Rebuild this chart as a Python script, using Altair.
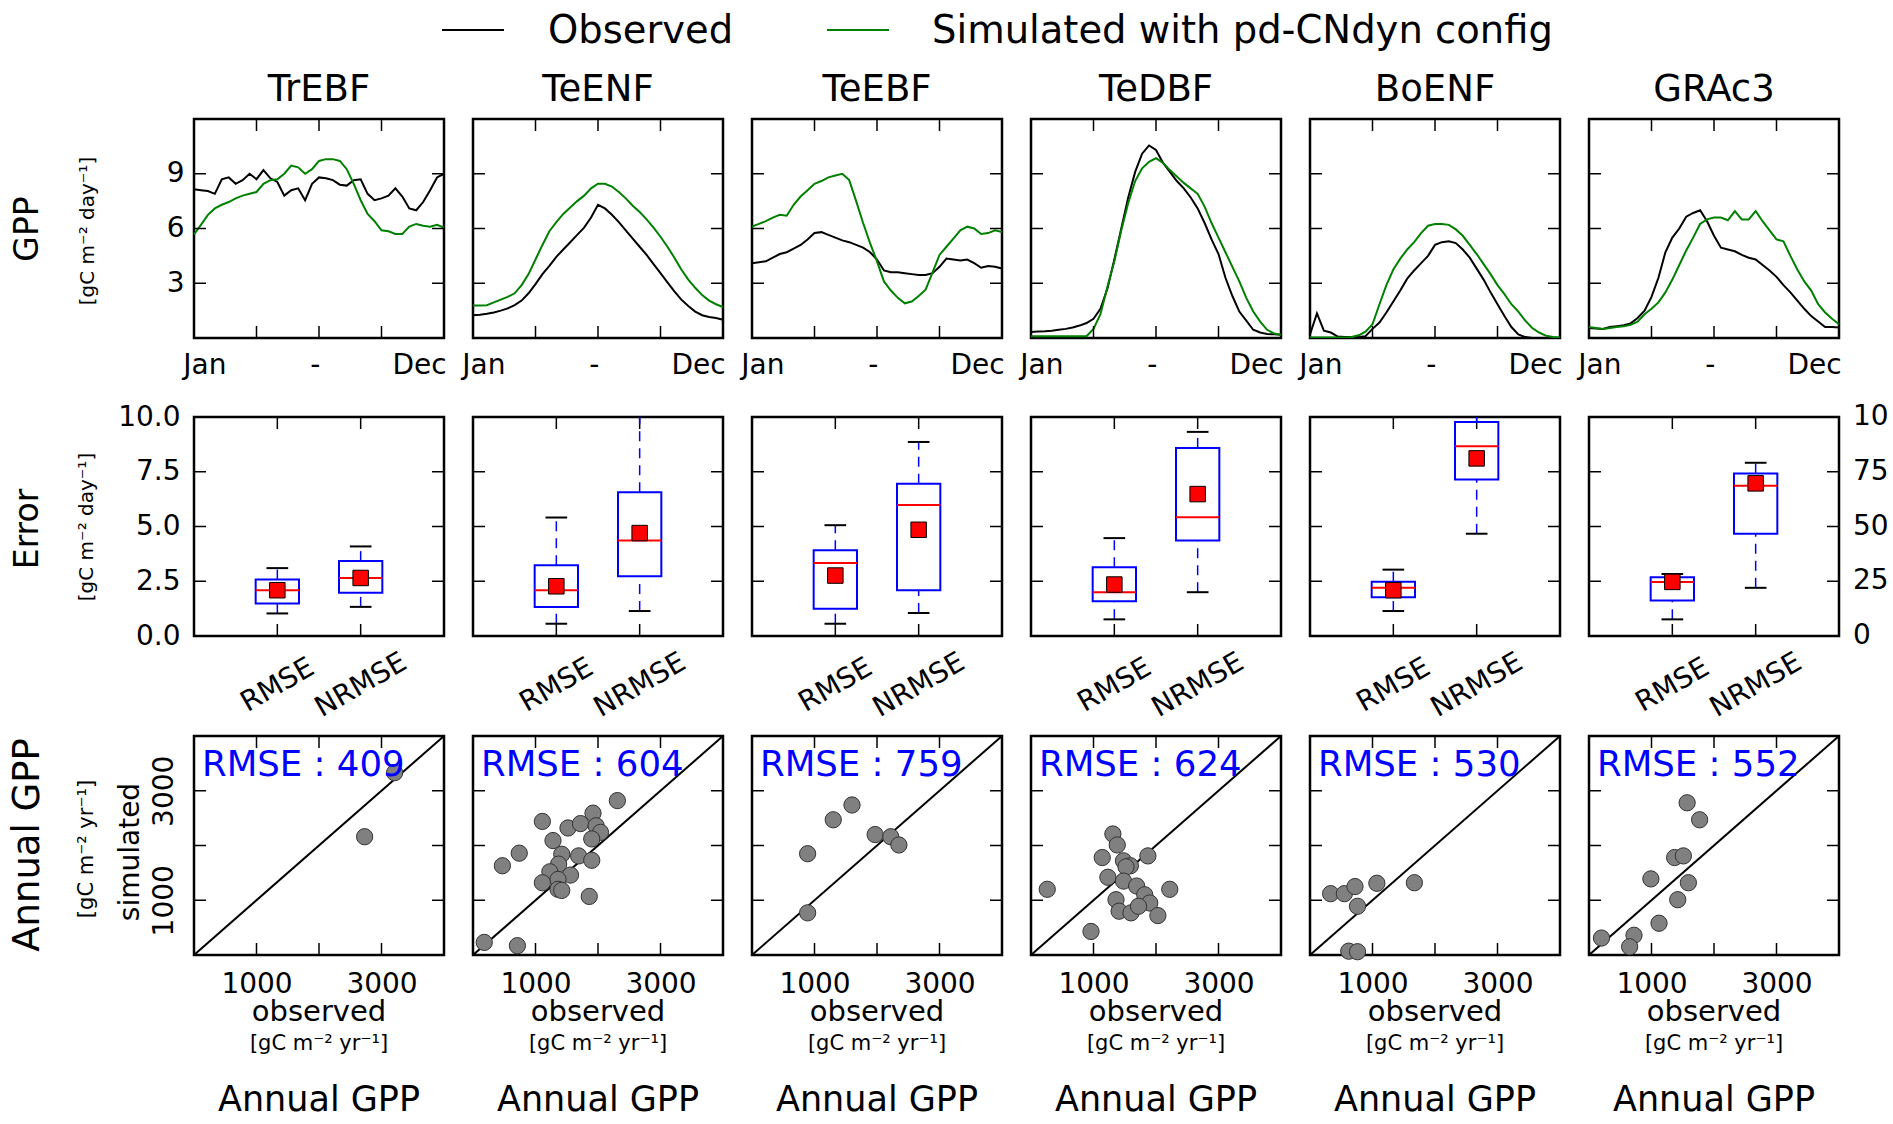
import altair as alt
import pandas as pd

FONT = "DejaVu Sans"

# ---------------- data ----------------
SITES = ["TrEBF", "TeENF", "TeEBF", "TeDBF", "BoENF", "GRAc3"]
SERIES = ["Observed", "Simulated with pd-CNdyn config"]
SERIES_COLORS = ["#000000", "#008000"]

# mean seasonal cycle, 37 steps of ~10 days (Jan .. Dec)
STEP = list(range(37))
MONTH_POS = [1.5, 17.4, 32.4]
MONTH_TXT = ["Jan", "-", "Dec"]
GPP_TICKS = [3, 6, 9]

GPP_OBS = [
    [8.15, 8.1, 8.05, 7.9, 8.7, 8.8, 8.45, 8.65, 9.0, 8.7, 9.2, 8.75, 8.55, 7.8, 8.1, 8.2, 7.55, 8.45, 8.8,
     8.75, 8.65, 8.4, 8.35, 8.65, 8.7, 7.9, 7.55, 7.65, 7.8, 8.2, 7.75, 7.1, 7.0, 7.45, 8.1, 8.8, 9.0],
    [1.25, 1.28, 1.33, 1.4, 1.5, 1.62, 1.8, 2.05, 2.45, 2.95, 3.5, 3.95, 4.45, 4.85, 5.25, 5.65, 6.05, 6.6, 7.3,
     7.1, 6.75, 6.35, 5.9, 5.45, 5.0, 4.55, 4.05, 3.55, 3.05, 2.55, 2.1, 1.75, 1.45, 1.25, 1.15, 1.1, 1.0],
    [4.1, 4.15, 4.2, 4.4, 4.6, 4.7, 4.9, 5.1, 5.4, 5.75, 5.8, 5.65, 5.5, 5.35, 5.25, 5.1, 4.95, 4.7, 4.3,
     3.7, 3.6, 3.6, 3.55, 3.5, 3.45, 3.45, 3.55, 3.9, 4.35, 4.3, 4.25, 4.3, 4.1, 3.85, 3.95, 3.9, 3.8],
    [0.33, 0.35, 0.37, 0.4, 0.45, 0.5, 0.58, 0.68, 0.82, 1.05, 1.6, 2.7, 4.3, 6.0, 7.7, 9.1, 10.1, 10.55, 10.3,
     9.6, 9.1, 8.6, 8.2, 7.7, 7.1, 6.3, 5.4, 4.6, 3.3, 2.3, 1.45, 0.95, 0.45, 0.3, 0.22, 0.2, 0.18],
    [0.2, 1.35, 0.4, 0.3, 0.08, 0.05, 0.05, 0.05, 0.1, 0.5, 0.85, 1.4, 2.0, 2.6, 3.25, 3.7, 4.1, 4.5, 5.1,
     5.25, 5.3, 5.2, 4.85, 4.4, 3.8, 3.2, 2.5, 1.85, 1.2, 0.6, 0.2, 0.05, 0.0, 0.0, 0.0, 0.0, 0.0],
    [0.55, 0.52, 0.5, 0.6, 0.65, 0.7, 0.8, 1.1, 1.5, 2.25, 3.3, 4.7, 5.5, 6.0, 6.65, 6.85, 7.0, 6.4, 5.6,
     4.95, 4.85, 4.75, 4.55, 4.4, 4.3, 4.0, 3.7, 3.35, 2.9, 2.5, 2.05, 1.6, 1.2, 0.9, 0.6, 0.6, 0.58],
]
GPP_SIM = [
    [5.67, 6.2, 6.75, 7.1, 7.3, 7.45, 7.65, 7.8, 7.9, 8.0, 8.45, 8.65, 8.7, 9.0, 9.45, 9.35, 9.0, 9.25, 9.7,
     9.8, 9.8, 9.7, 9.25, 8.45, 7.55, 6.8, 6.4, 5.9, 5.85, 5.7, 5.7, 6.1, 6.25, 6.15, 6.1, 6.2, 6.05],
    [1.78, 1.78, 1.8, 1.95, 2.1, 2.25, 2.45, 2.9, 3.5, 4.3, 5.1, 5.85, 6.35, 6.8, 7.15, 7.5, 7.8, 8.2, 8.45,
     8.45, 8.3, 8.0, 7.65, 7.25, 6.9, 6.5, 6.05, 5.55, 5.0, 4.4, 3.75, 3.2, 2.75, 2.35, 2.05, 1.85, 1.7],
    [6.1, 6.25, 6.4, 6.6, 6.75, 6.7, 7.3, 7.75, 8.1, 8.45, 8.6, 8.8, 8.9, 9.0, 8.65, 7.5, 6.3, 5.2, 4.2,
     3.1, 2.6, 2.2, 1.9, 2.0, 2.3, 2.65, 3.6, 4.55, 5.0, 5.45, 5.9, 6.1, 6.0, 5.7, 5.75, 5.9, 5.8],
    [0.1, 0.1, 0.1, 0.1, 0.1, 0.1, 0.1, 0.1, 0.1, 0.5, 1.3, 2.8, 4.2, 5.9, 7.4, 8.6, 9.3, 9.65, 9.85,
     9.6, 9.2, 8.85, 8.5, 8.2, 7.9, 7.2, 6.3, 5.5, 4.7, 3.9, 3.1, 2.2, 1.45, 0.9, 0.45, 0.25, 0.18],
    [0.03, 0.03, 0.03, 0.03, 0.03, 0.03, 0.05, 0.15, 0.35, 0.75, 1.85, 2.9, 3.75, 4.35, 4.85, 5.25, 5.75, 6.15, 6.25,
     6.25, 6.2, 5.95, 5.6, 5.1, 4.6, 4.05, 3.5, 2.9, 2.4, 1.85, 1.45, 0.95, 0.55, 0.3, 0.12, 0.05, 0.03],
    [0.6, 0.55, 0.5, 0.55, 0.6, 0.65, 0.72, 0.9, 1.3, 1.6, 1.95, 2.5, 3.2, 4.0, 4.8, 5.5, 6.25, 6.5, 6.6,
     6.6, 6.45, 6.95, 6.5, 6.5, 6.95, 6.4, 5.9, 5.4, 5.3, 4.5, 3.75, 3.1, 2.6, 1.85, 1.4, 1.05, 0.75],
]

# error box plots (RMSE in gC m-2 day-1, NRMSE in %)
ERR_CATS = ["RMSE", "NRMSE"]
ERR_TICKS = [0, 2.5, 5, 7.5, 10]
NERR_TICKS = [0, 25, 50, 75, 100]
RMSE_LO = [1.03, 0.56, 0.56, 0.76, 1.14, 0.76]
RMSE_Q1 = [1.48, 1.32, 1.24, 1.59, 1.77, 1.62]
RMSE_MED = [2.09, 2.09, 3.33, 2.00, 2.20, 2.47]
RMSE_Q3 = [2.58, 3.23, 3.91, 3.14, 2.48, 2.68]
RMSE_HI = [3.10, 5.41, 5.06, 4.47, 3.03, 2.83]
RMSE_MEAN = [2.09, 2.27, 2.76, 2.35, 2.09, 2.47]
NRMSE_LO = [13.3, 11.4, 10.5, 20.0, 46.7, 22.0]
NRMSE_Q1 = [19.7, 27.3, 20.9, 43.6, 71.5, 46.7]
NRMSE_MED = [26.5, 43.6, 59.8, 54.2, 86.7, 68.6]
NRMSE_Q3 = [34.2, 65.6, 69.5, 85.9, 97.7, 74.2]
NRMSE_HI = [40.9, 104.0, 88.6, 93.2, 103.0, 79.1]
NRMSE_MEAN = [26.5, 47.0, 48.5, 64.8, 81.1, 69.7]

# annual GPP, observed vs simulated (gC m-2 yr-1)
ANN_TICKS = [1000, 2000, 3000]
ANN_LABELS = [1000, 3000]
ANN_OBS = [
    [3210, 2730],
    [180, 710, 470, 740, 1110, 1280, 1520, 1720, 1920, 1970, 2040, 1900, 2310, 1420, 1690, 1900, 1370, 1230,
     1560, 1360, 1110, 1360, 1420, 1860],
    [890, 890, 1300, 1600, 1970, 2220, 2350],
    [260, 960, 1310, 1380, 1140, 1870, 1230, 1480, 1590, 1520, 1480, 1690, 2220, 1360, 1820, 1900, 1410, 1600,
     1720, 2030],
    [330, 550, 720, 1070, 760, 1670, 620, 760],
    [200, 720, 650, 1120, 1420, 1590, 990, 1370, 1510, 1570, 1770],
]
ANN_SIM = [
    [3330, 2160],
    [230, 170, 1630, 1860, 2440, 2090, 2320, 2400, 2590, 2360, 2240, 2120, 2820, 1840, 1810, 1730, 1660, 1520,
     1460, 1380, 1320, 1200, 1180, 1070],
    [770, 1850, 2470, 2740, 2200, 2160, 2010],
    [1200, 430, 2210, 2010, 1780, 1810, 1420, 1720, 1630, 1610, 1350, 1260, 1200, 1010, 1100, 950, 800, 770,
     890, 720],
    [1120, 1120, 1250, 1310, 890, 1320, 70, 60],
    [310, 360, 150, 580, 1010, 1320, 1390, 1780, 1810, 2780, 2470],
]
ANN_RMSE = [409, 604, 759, 624, 530, 552]

UNITS_DAY = "[gC m\u207b\u00b2 day\u207b\u00b9]"
UNITS_YR = "[gC m\u207b\u00b2 yr\u207b\u00b9]"

# ---------------- layout constants (pixels) ----------------
W, H = 250, 219
SIDE = 12
LEFT = 192
TK = 12
BOX_HALF = 0.26
CAP_HALF = 0.13
TICK_FS = 28
# legend strip above the panels (x relative to the left edge of the first panel)
LEG_H = 60
LEG_Y = 30
LEG_LINE_X = [(248, 310), (633, 695)]
LEG_TEXT_X = [354, 738]

COLOR_SCALE = alt.Scale(domain=SERIES, range=SERIES_COLORS)


def one_row(**kw):
    return pd.DataFrame({k: [v] for k, v in kw.items()})


def enc(ch, field, scale, axis="omit"):
    kw = {"scale": scale}
    if axis != "omit":
        kw["axis"] = axis
    return ch(field, **kw)


def anchors(k, top, bot):
    d = one_row(a=0)
    left = LEFT if k == 0 else SIDE
    h = alt.Chart(d).mark_rule(strokeOpacity=0).encode(
        x=alt.value(-left), x2=alt.value(W + SIDE), y=alt.value(H / 2))
    v = alt.Chart(d).mark_rule(strokeOpacity=0).encode(
        x=alt.value(W / 2), y=alt.value(-top), y2=alt.value(H + bot))
    return [h, v]


def inner_ticks(xvals, yvals, xs, ys):
    dx = pd.DataFrame({"x": xvals})
    dy = pd.DataFrame({"y": yvals})
    kw = dict(color="black", strokeWidth=1.5)
    X = enc(alt.X, "x:Q", xs)
    Y = enc(alt.Y, "y:Q", ys)
    return [
        alt.Chart(dx).mark_rule(**kw).encode(x=X, y=alt.value(0), y2=alt.value(TK)),
        alt.Chart(dx).mark_rule(**kw).encode(x=X, y=alt.value(H - TK), y2=alt.value(H)),
        alt.Chart(dy).mark_rule(**kw).encode(y=Y, x=alt.value(0), x2=alt.value(TK)),
        alt.Chart(dy).mark_rule(**kw).encode(y=Y, x=alt.value(W - TK), x2=alt.value(W)),
    ]


def vtext(txt, x, y, size):
    return alt.Chart(one_row(t=txt)).mark_text(angle=270, fontSize=size, align="center",
                                                 baseline="middle", color="black").encode(
        text="t:N", x=alt.value(x), y=alt.value(y))


def htext(txt, x, y, size, color="black", align="center"):
    return alt.Chart(one_row(t=txt)).mark_text(fontSize=size, align=align, baseline="alphabetic",
                                                 color=color).encode(
        text="t:N", x=alt.value(x), y=alt.value(y))


def no_ticks(**kw):
    return alt.Axis(title=None, ticks=False, tickSize=0, domain=False, grid=False, **kw)


# ---------------- legend strip ----------------
def legend_strip():
    d0 = one_row(a=0)
    layers = [alt.Chart(d0).mark_rule(strokeOpacity=0).encode(
        x=alt.value(300), y=alt.value(0), y2=alt.value(LEG_H))]
    for s, (x1, x2), tx in zip(SERIES, LEG_LINE_X, LEG_TEXT_X):
        d = one_row(series=s)
        layers.append(alt.Chart(d).mark_rule(strokeWidth=2).encode(
            x=alt.value(x1), x2=alt.value(x2), y=alt.value(LEG_Y),
            color=alt.Color("series:N", scale=COLOR_SCALE, legend=None)))
        layers.append(alt.Chart(d).mark_text(fontSize=38.5, align="left", baseline="middle",
                                             color="black").encode(
            text="series:N", x=alt.value(tx), y=alt.value(LEG_Y + 1)))
    return alt.layer(*layers).properties(width=1, height=1, view=alt.ViewBackground(strokeOpacity=0))


# ---------------- row 1: seasonal GPP ----------------
month_expr = (f"datum.value < {(MONTH_POS[0] + MONTH_POS[1]) / 2} ? '{MONTH_TXT[0]}' : "
              f"datum.value < {(MONTH_POS[1] + MONTH_POS[2]) / 2} ? '{MONTH_TXT[1]}' : '{MONTH_TXT[2]}'")


def gpp_panel(k):
    recs = []
    for s, vals in zip(SERIES, (GPP_OBS[k], GPP_SIM[k])):
        for t, v in zip(STEP, vals):
            recs.append({"x": t, "y": v, "series": s})
    df = pd.DataFrame(recs)
    xs = alt.Scale(domain=[0, 36], nice=False, zero=False)
    ys = alt.Scale(domain=[0, 12], nice=False, zero=False)
    lines = alt.Chart(df).mark_line(strokeWidth=2, clip=True).encode(
        x=enc(alt.X, "x:Q", xs, no_ticks(values=MONTH_POS, labelExpr=month_expr, labelFontSize=TICK_FS,
                                         labelPadding=13, labelFlush=False, labelOverlap=False)),
        y=enc(alt.Y, "y:Q", ys, no_ticks(values=GPP_TICKS, labels=(k == 0), labelFontSize=TICK_FS,
                                         labelPadding=10)),
        color=alt.Color("series:N", scale=COLOR_SCALE, legend=None),
    )
    title = alt.Chart(one_row(t=SITES[k])).mark_text(fontSize=37, align="center", baseline="middle").encode(
        text="t:N", x=alt.value(W / 2), y=alt.value(-29))
    layers = [lines, title] + inner_ticks([9, 18, 27], GPP_TICKS, xs, ys) + anchors(k, 57, 43)
    if k == 0:
        layers += [vtext("GPP", -166, 110, 33), vtext(UNITS_DAY, -106, 112, 20)]
    return alt.layer(*layers).properties(width=W, height=H)


# ---------------- row 2: error box plots ----------------
def box_layers(pos, stats, xs, ys, yaxis, xaxis, y_all_off):
    lo, q1, med, q3, hi, mean = stats
    d = one_row(x=pos, lo=lo, q1=q1, med=med, q3=q3, hi=hi, mean=mean)
    base = alt.Chart(d).transform_calculate(
        xl=f"datum.x - {BOX_HALF}", xr=f"datum.x + {BOX_HALF}",
        cl=f"datum.x - {CAP_HALF}", cr=f"datum.x + {CAP_HALF}")
    yo = None if y_all_off else "omit"

    def X(f, ax="omit"):
        return enc(alt.X, f"{f}:Q", xs, ax)

    def Y(f, ax=None):
        return enc(alt.Y, f"{f}:Q", ys, yo if ax is None else ax)

    whisk = dict(color="#0000ff", strokeWidth=1.5, strokeDash=[10, 7], clip=True)
    cap = dict(color="black", strokeWidth=2, clip=True)
    return [
        base.mark_rule(**whisk).encode(x=X("x"), y=Y("lo"), y2="q1:Q"),
        base.mark_rule(**whisk).encode(x=X("x"), y=Y("q3"), y2="hi:Q"),
        base.mark_rule(**cap).encode(x=X("cl"), x2="cr:Q", y=Y("lo")),
        base.mark_rule(**cap).encode(x=X("cl"), x2="cr:Q", y=Y("hi")),
        base.mark_rect(fillOpacity=0, stroke="#0000ff", strokeWidth=2, clip=True).encode(
            x=X("xl", xaxis), x2="xr:Q", y=Y("q1", yaxis), y2="q3:Q"),
        base.mark_rule(color="#ff0000", strokeWidth=2, clip=True).encode(x=X("xl"), x2="xr:Q", y=Y("med")),
        base.mark_square(size=240, color="#ff0000", stroke="black", strokeWidth=1, opacity=1,
                         clip=True).encode(x=X("x"), y=Y("mean")),
    ]


cat_expr = f"datum.value == 1 ? '{ERR_CATS[0]}' : '{ERR_CATS[1]}'"


def err_panel(k):
    xs = alt.Scale(domain=[0, 3], nice=False, zero=False)
    ys_l = alt.Scale(domain=[0, 10], nice=False, zero=False)
    ys_r = alt.Scale(domain=[0, 100], nice=False, zero=False)
    left_axis = no_ticks(values=ERR_TICKS, format=".1f", labels=(k == 0), labelFontSize=TICK_FS,
                         labelPadding=14)
    x_axis = no_ticks(values=[1, 2], labelExpr=cat_expr, labelFontSize=28, labelAngle=330,
                      labelAlign="center", labelBaseline="middle", labelPadding=49,
                      labelFlush=False, labelOverlap=False)
    L = box_layers(1, [RMSE_LO[k], RMSE_Q1[k], RMSE_MED[k], RMSE_Q3[k], RMSE_HI[k], RMSE_MEAN[k]],
                   xs, ys_l, left_axis, x_axis, False)
    nstats = [NRMSE_LO[k], NRMSE_Q1[k], NRMSE_MED[k], NRMSE_Q3[k], NRMSE_HI[k], NRMSE_MEAN[k]]
    R = box_layers(2, nstats, xs, ys_r, None, "omit", True)
    if k == 5:
        # right-hand NRMSE scale labels; the top one is cut at the figure edge as in the original
        R.append(alt.Chart(pd.DataFrame({"v": NERR_TICKS})).mark_text(
            align="left", baseline="middle", fontSize=TICK_FS, limit=46, ellipsis="\u200b",
            color="black").encode(
            y=alt.Y("v:Q", scale=ys_r, axis=None), x=alt.value(W + 14), text=alt.Text("v:Q", format="d")))
    L += inner_ticks([1, 2], ERR_TICKS[1:-1], xs, ys_l) + anchors(k, 32.5, 92)
    if k == 0:
        L += [vtext("Error", -166, 112, 33), vtext(UNITS_DAY, -107, 110, 20)]
    return alt.layer(alt.layer(*L), alt.layer(*R)).resolve_scale(y="independent").properties(width=W, height=H)


# ---------------- row 3: annual GPP scatter ----------------
def scat_panel(k):
    xs = alt.Scale(domain=[0, 4000], nice=False, zero=False)
    ys = alt.Scale(domain=[0, 4000], nice=False, zero=False)
    x_axis = no_ticks(values=ANN_LABELS, format="d", labelFontSize=TICK_FS, labelPadding=15,
                      labelFlush=False, labelOverlap=False)
    y_axis = no_ticks(values=ANN_LABELS, format="d", labels=(k == 0), labelFontSize=TICK_FS, labelAngle=270,
                      labelAlign="center", labelBaseline="middle", labelPadding=30, labelOverlap=False)
    diag = one_row(x=0, y=0, x2=4000, y2=4000)
    line = alt.Chart(diag).mark_rule(color="black", strokeWidth=2).encode(
        x=enc(alt.X, "x:Q", xs, x_axis), y=enc(alt.Y, "y:Q", ys, y_axis), x2="x2:Q", y2="y2:Q")
    pts = pd.DataFrame({"x": ANN_OBS[k], "y": ANN_SIM[k]})
    dots = alt.Chart(pts).mark_circle(size=265, color="#808080", stroke="#333333", strokeWidth=1,
                                      opacity=1).encode(x=enc(alt.X, "x:Q", xs), y=enc(alt.Y, "y:Q", ys))
    layers = [line, dots,
              htext(f"RMSE : {ANN_RMSE[k]}", 8, 40, 35.5, color="#0000ff", align="left"),
              htext("observed", W / 2, 285, 29),
              htext(UNITS_YR, W / 2, 314, 21),
              htext("Annual GPP", W / 2, 375, 35)]
    layers += inner_ticks(ANN_TICKS, ANN_TICKS, xs, ys) + anchors(k, 4.5, 0)
    if k == 0:
        layers += [vtext("Annual GPP", -166, 109, 37), vtext(UNITS_YR, -107, 113, 21),
                   vtext("simulated", -63, 116, 28)]
    return alt.layer(*layers).properties(width=W, height=H)


row1 = alt.hconcat(*[gpp_panel(k) for k in range(6)], spacing=1)
row2 = alt.hconcat(*[err_panel(k) for k in range(6)], spacing=1)
row3 = alt.hconcat(*[scat_panel(k) for k in range(6)], spacing=1)

chart = (
    alt.vconcat(legend_strip(), row1, row2, row3, spacing=0)
    .properties(padding=0)
    .configure(font=FONT)
    .configure_view(stroke="black", strokeWidth=2.5)
    .configure_axis(grid=False, labelColor="black", labelFont=FONT)
)

chart.save("out.html", embed_options={"renderer": "svg", "actions": False})
